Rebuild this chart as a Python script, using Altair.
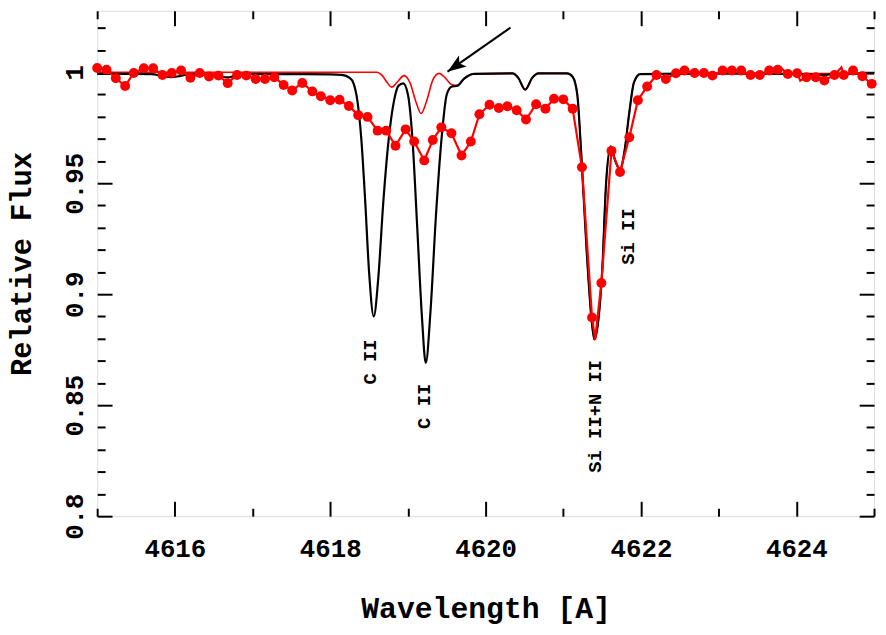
import altair as alt
import pandas as pd

# ---------------- data ----------------
black_wl = [4615.00, 4615.70, 4615.85, 4615.95, 4616.05, 4616.20, 4616.50, 4616.60, 4616.68, 4616.78,
            4616.95, 4617.50, 4618.00, 4618.15, 4618.25, 4618.30, 4618.35, 4618.40, 4618.45, 4618.50,
            4618.56, 4618.62, 4618.68, 4618.75, 4618.82, 4618.88, 4618.94, 4619.00, 4619.06, 4619.12,
            4619.18, 4619.23, 4619.29, 4619.36, 4619.43, 4619.50, 4619.56, 4619.64, 4619.72, 4619.85,
            4620.35, 4620.42, 4620.51, 4620.60, 4620.68, 4621.05, 4621.12, 4621.18, 4621.23, 4621.30,
            4621.36, 4621.40, 4621.45, 4621.50, 4621.55, 4621.61, 4621.67, 4621.73, 4621.79, 4621.85,
            4621.91, 4621.99, 4623.00, 4624.20, 4624.35, 4624.50, 4625.00]
black_flux = [0.9993, 0.9992, 0.9982, 0.9978, 0.9982, 0.9992, 0.9990, 0.9980, 0.9977, 0.9985,
              0.9992, 0.9992, 0.9991, 0.9988, 0.9975, 0.9950, 0.9870, 0.9700, 0.9420, 0.9100,
              0.8900, 0.9080, 0.9400, 0.9690, 0.9870, 0.9940, 0.9950, 0.9900, 0.9690, 0.9300,
              0.8900, 0.8690, 0.8920, 0.9350, 0.9690, 0.9900, 0.9935, 0.9940, 0.9970, 0.9993,
              0.9995, 0.9975, 0.9922, 0.9975, 0.9995, 0.9995, 0.9980, 0.9900, 0.9640, 0.9200,
              0.8900, 0.8796, 0.8880, 0.9100, 0.9495, 0.9666, 0.9600, 0.9560, 0.9650, 0.9820,
              0.9955, 0.9992, 0.9995, 0.9990, 0.9988, 0.9993, 0.9995]

red_wl = [4615.00, 4618.60, 4618.67, 4618.73, 4618.79, 4618.86, 4618.95, 4619.03, 4619.10, 4619.17,
          4619.24, 4619.32, 4619.40, 4619.48, 4619.56, 4619.64, 4619.72, 4619.85, 4620.35, 4620.42,
          4620.51, 4620.60, 4620.68, 4621.05, 4621.12, 4621.18, 4621.23, 4621.30, 4621.36, 4621.40,
          4621.45, 4621.50, 4621.55, 4621.61, 4621.67, 4621.73, 4621.79, 4621.85, 4621.91, 4621.99,
          4625.00]
red_flux = [1.0000, 1.0000, 0.9985, 0.9955, 0.9933, 0.9955, 0.9985, 0.9950, 0.9870, 0.9814,
            0.9870, 0.9965, 0.9995, 0.9975, 0.9945, 0.9940, 0.9970, 0.9993, 0.9995, 0.9975,
            0.9922, 0.9975, 0.9995, 0.9995, 0.9980, 0.9900, 0.9640, 0.9200, 0.8900, 0.8796,
            0.8880, 0.9100, 0.9495, 0.9650, 0.9600, 0.9560, 0.9650, 0.9820, 0.9955, 0.9992,
            0.9995]

obs_wl = [4615.00, 4615.12, 4615.24, 4615.36, 4615.47, 4615.60, 4615.72, 4615.84, 4615.96, 4616.08,
          4616.20, 4616.32, 4616.44, 4616.56, 4616.68, 4616.80, 4616.92, 4617.04, 4617.16, 4617.28,
          4617.40, 4617.51, 4617.64, 4617.77, 4617.88, 4618.00, 4618.12, 4618.24, 4618.36, 4618.48,
          4618.61, 4618.72, 4618.84, 4618.97, 4619.08, 4619.21, 4619.32, 4619.43, 4619.56, 4619.69,
          4619.81, 4619.92, 4620.05, 4620.17, 4620.28, 4620.40, 4620.52, 4620.65, 4620.77, 4620.88,
          4621.00, 4621.12, 4621.24, 4621.37, 4621.49, 4621.62, 4621.73, 4621.85, 4621.96, 4622.08,
          4622.20, 4622.32, 4622.45, 4622.56, 4622.69, 4622.81, 4622.92, 4623.05, 4623.17, 4623.29,
          4623.41, 4623.53, 4623.65, 4623.76, 4623.89, 4624.01, 4624.13, 4624.25, 4624.36, 4624.49,
          4624.61, 4624.73, 4624.85, 4624.97]
obs_flux = [1.0019, 1.0012, 0.9973, 0.9938, 0.9997, 1.0018, 1.0018, 0.9988, 0.9997, 1.0008,
            0.9975, 0.9997, 0.9981, 0.9985, 0.9951, 0.9988, 0.9985, 0.9970, 0.9970, 0.9978,
            0.9943, 0.9918, 0.9952, 0.9914, 0.9892, 0.9874, 0.9876, 0.9848, 0.9807, 0.9799,
            0.9737, 0.9737, 0.9669, 0.9743, 0.9688, 0.9603, 0.9695, 0.9752, 0.9725, 0.9625,
            0.9688, 0.9811, 0.9854, 0.9839, 0.9847, 0.9829, 0.9787, 0.9856, 0.9836, 0.9881,
            0.9878, 0.9836, 0.9572, 0.8895, 0.9051, 0.9646, 0.9551, 0.9707, 0.9874, 0.9936,
            0.9988, 0.9970, 0.9996, 1.0008, 0.9997, 0.9997, 0.9985, 1.0008, 1.0008, 1.0008,
            0.9988, 0.9988, 1.0008, 1.0012, 0.9992, 0.9996, 0.9978, 0.9978, 0.9963, 0.9988,
            0.9988, 1.0008, 0.9982, 0.9948]

# extra samples of the observed line between the dots
obs_extra_wl = [4621.41, 4623.80, 4624.05, 4624.58]
obs_extra_flux = [0.8796, 1.0020, 0.9962, 1.0022]

ann_text = ["C II", "C II", "Si II+N II", "Si II"]
ann_wl = [4618.51, 4619.21, 4621.41, 4621.84]
ann_flux = [0.8695, 0.8495, 0.8450, 0.9260]

arrow_start_wl = [4620.32]
arrow_start_flux = [1.0201]
arrow_tip_wl = [4619.51]
arrow_tip_flux = [1.0003]

x_major = [4616, 4618, 4620, 4622, 4624]
x_minor = [4615, 4617, 4619, 4621, 4623, 4625]
y_major = [0.8, 0.85, 0.9, 0.95, 1.0]
y_minor = [0.81, 0.82, 0.83, 0.84, 0.86, 0.87, 0.88, 0.89, 0.91, 0.92, 0.93, 0.94,
           0.96, 0.97, 0.98, 0.99, 1.01, 1.02]

x_domain = [4615, 4625]
y_domain = [0.8, 1.0277]

# ---------------- tables ----------------
black_df = pd.DataFrame({"wl": black_wl, "flux": black_flux})
red_df = pd.DataFrame({"wl": red_wl, "flux": red_flux})
dots_df = pd.DataFrame({"wl": obs_wl, "flux": obs_flux})
obs_line_df = pd.DataFrame({"wl": obs_wl + obs_extra_wl,
                            "flux": obs_flux + obs_extra_flux}).sort_values("wl")
ann_df = pd.DataFrame({"label": ann_text, "wl": ann_wl, "flux": ann_flux})
arrow_df = pd.DataFrame({"x0": arrow_start_wl, "y0": arrow_start_flux,
                         "x1": arrow_tip_wl, "y1": arrow_tip_flux})

FONT = "Liberation Mono"
XS = alt.Scale(domain=x_domain, nice=False, zero=False)
YS = alt.Scale(domain=y_domain, nice=False, zero=False)


def tick_axis(orient, values, size):
    return alt.Axis(orient=orient, values=values, offset=-size, tickSize=size,
                    tickWidth=2, tickColor="black", labels=False, domain=False,
                    grid=False)


x_label_axis = alt.Axis(orient="bottom", values=x_major, format="d", ticks=False,
                        domain=False, grid=False, labelFont=FONT, labelFontSize=26,
                        labelFontWeight="bold", labelColor="black", labelPadding=20,
                        titleFont=FONT, titleFontSize=30, titleFontWeight="bold",
                        titleColor="black", titlePadding=32)
y_label_axis = alt.Axis(orient="left", values=y_major, format="~g", ticks=False,
                        domain=False, grid=False, labelFont=FONT, labelFontSize=26,
                        labelFontWeight="bold", labelColor="black", labelPadding=10,
                        labelAngle=270, labelAlign="center", labelBaseline="bottom",
                        titleFont=FONT, titleFontSize=29, titleFontWeight="bold",
                        titleColor="black", titlePadding=25)

red_model = alt.Chart(red_df).mark_line(color="#ff0000", strokeWidth=1.6,
                                        interpolate="monotone").encode(
    x=alt.X("wl:Q", scale=XS, axis=x_label_axis, title="Wavelength [A]"),
    y=alt.Y("flux:Q", scale=YS, axis=y_label_axis, title="Relative Flux"),
)

black_model = alt.Chart(black_df).mark_line(color="black", strokeWidth=2.2,
                                            interpolate="monotone").encode(
    x=alt.X("wl:Q", scale=XS, axis=tick_axis("bottom", x_major, 15), title=None),
    y=alt.Y("flux:Q", scale=YS, axis=tick_axis("left", y_major, 15), title=None),
)

obs_line = alt.Chart(obs_line_df).mark_line(color="#ff0000", strokeWidth=2.2).encode(
    x=alt.X("wl:Q", scale=XS, axis=tick_axis("bottom", x_minor, 8), title=None),
    y=alt.Y("flux:Q", scale=YS, axis=tick_axis("left", y_minor, 8), title=None),
)

obs_dots = alt.Chart(dots_df).mark_point(filled=True, color="#ff0000", size=100,
                                         opacity=1).encode(
    x=alt.X("wl:Q", scale=XS, axis=tick_axis("top", x_major, 15), title=None),
    y=alt.Y("flux:Q", scale=YS, axis=tick_axis("right", y_major, 15), title=None),
)

labels = alt.Chart(ann_df).mark_text(angle=270, font=FONT, fontSize=19,
                                     fontWeight="bold", color="black",
                                     align="center", baseline="middle").encode(
    x=alt.X("wl:Q", scale=XS, axis=tick_axis("top", x_minor, 8), title=None),
    y=alt.Y("flux:Q", scale=YS, axis=tick_axis("right", y_minor, 8), title=None),
    text="label:N",
)

arrow_line = alt.Chart(arrow_df).mark_rule(color="black", strokeWidth=2).encode(
    x=alt.X("x0:Q", scale=XS, axis=None),
    y=alt.Y("y0:Q", scale=YS, axis=None),
    x2="x1:Q",
    y2="y1:Q",
)

arrow_head = alt.Chart(arrow_df).mark_point(
    shape="M0,0L0.36,1L0,0.78L-0.36,1Z", filled=True, color="black", size=1400,
    angle=235, opacity=1, strokeWidth=0).encode(
    x=alt.X("x1:Q", scale=XS, axis=None),
    y=alt.Y("y1:Q", scale=YS, axis=None),
)

chart = alt.layer(red_model, black_model, obs_line, obs_dots, labels,
                  arrow_line, arrow_head).resolve_axis(
    x="independent", y="independent"
).properties(
    width=784, height=510,
    autosize=alt.AutoSizeParams(type="none"),
    padding={"left": 90, "top": 0, "right": 4, "bottom": 108},
).configure_view(stroke="black", strokeWidth=2).configure(background="white")

chart.save("out.html", embed_options={"renderer": "svg", "actions": False})
